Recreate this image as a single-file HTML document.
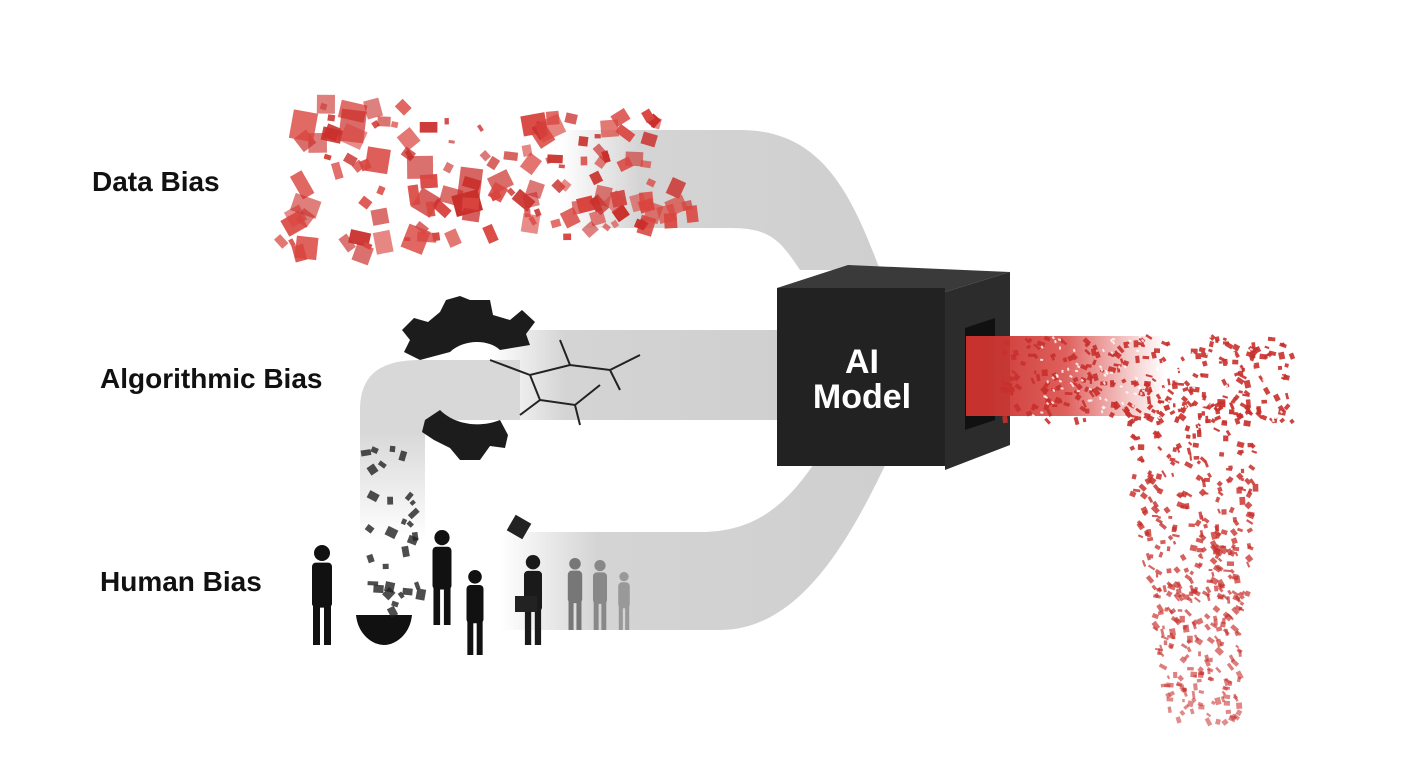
<!DOCTYPE html>
<html><head><meta charset="utf-8">
<style>
html,body{margin:0;padding:0;background:#fff;}
body{width:1408px;height:768px;overflow:hidden;position:relative;font-family:"Liberation Sans",sans-serif;}
.lbl{position:absolute;font-weight:bold;font-size:28px;color:#111;}
</style></head>
<body>
<svg id="s" width="1408" height="768" viewBox="0 0 1408 768" style="position:absolute;left:0;top:0">
<defs>
<linearGradient id="fadeL" x1="0" x2="1"><stop offset="0" stop-color="#d4d4d4" stop-opacity="0"/><stop offset="0.25" stop-color="#d4d4d4"/><stop offset="1" stop-color="#cfcfcf"/></linearGradient>
<linearGradient id="fadeV" x1="0" y1="1" x2="0" y2="0"><stop offset="0" stop-color="#d8d8d8" stop-opacity="0"/><stop offset="0.6" stop-color="#d8d8d8"/></linearGradient>
<linearGradient id="red" x1="0" x2="1"><stop offset="0" stop-color="#c8302c"/><stop offset="0.5" stop-color="#d94440" stop-opacity="0.85"/><stop offset="1" stop-color="#e06060" stop-opacity="0"/></linearGradient>
</defs>
<path d="M560,130 L740,130 C820,130 850,190 880,270 L800,270 C780,240 770,228 730,228 L560,228 Z" fill="url(#fadeL)"/>
<path d="M490,330 L790,330 L790,420 L490,420 Z" fill="url(#fadeL)"/>
<path d="M360,540 L360,410 C360,375 380,360 420,360 L520,360 L520,420 L440,420 C430,420 425,425 425,440 L425,540 Z" fill="url(#fadeV)"/>
<path d="M500,532 L700,532 C760,532 790,500 820,455 L890,455 C850,540 800,630 720,630 L500,630 Z" fill="url(#fadeL)"/>
<polygon points="777,288 945,292 1010,272 848,265" fill="#3a3a3a"/>
<polygon points="945,292 1010,272 1010,445 945,470" fill="#2c2c2c"/>
<rect x="777" y="288" width="168" height="178" fill="#222"/>
<polygon points="965,328 995,318 995,420 965,430" fill="#111"/>
<text x="862" y="373" fill="#fff" font-family="Liberation Sans" font-weight="bold" font-size="34" text-anchor="middle">AI</text>
<text x="862" y="408" fill="#fff" font-family="Liberation Sans" font-weight="bold" font-size="34" text-anchor="middle">Model</text>
<rect x="966" y="336" width="200" height="80" fill="url(#red)"/>
<g fill="#1c1c1c">
<path d="M470,300 L490,300 L493,315 L510,320 L522,310 L535,322 L526,334 L530,345 L500,350 C490,340 465,338 450,352 L420,360 L404,352 L410,340 L402,330 L414,318 L428,322 L440,312 L446,300 L460,296 Z"/>
<path d="M425,420 L440,410 C455,425 480,428 500,420 L508,435 L505,448 L490,446 L480,460 L460,460 L450,448 L434,440 L422,432 Z"/>
</g>
<g stroke="#222" stroke-width="2" fill="none">
<path d="M490,360 L530,375 L570,365 L610,370 L640,355 M530,375 L540,400 L575,405 L600,385 M540,400 L520,415 M570,365 L560,340 M575,405 L580,425 M610,370 L620,390"/>
</g>
<path d="M356,615 L412,615 C410,635 395,645 384,645 C373,645 358,635 356,615 Z" fill="#111"/>
<g id="dyn"></g>
</svg>
<div class="lbl" style="left:92px;top:166px">Data Bias</div>
<div class="lbl" style="left:100px;top:363px">Algorithmic Bias</div>
<div class="lbl" style="left:100px;top:566px">Human Bias</div>
<script>
var g=document.getElementById('dyn'),ns='http://www.w3.org/2000/svg',seed=7;
function r(){seed=(seed*16807)%2147483647;return seed/2147483647;}
function rect(x,y,w,h,c,rot,op){var e=document.createElementNS(ns,'rect');e.setAttribute('x',x);e.setAttribute('y',y);e.setAttribute('width',w);e.setAttribute('height',h);e.setAttribute('fill',c);e.setAttribute('opacity',op);e.setAttribute('transform','rotate('+rot+' '+(x+w/2)+' '+(y+h/2)+')');g.appendChild(e);}
for(var i=0;i<170;i++){var x=275+r()*420,y=90+r()*160;var dx=(x-275)/420;var s=6+r()*22*(1-dx*0.5);
 if(Math.abs(y-170)>80*(1-dx*0.3))continue;
 rect(x,y,s,s*(0.5+r()*0.8),r()<0.5?'#c92f2b':'#d9453f',r()*90,0.6+r()*0.4);}
for(var i=0;i<260;i++){var x=1000+r()*290,y=335+r()*85;rect(x,y,3+r()*5,2+r()*4,'#c8302c',r()*90,0.9);}
for(var i=0;i<150;i++){var x=1030+r()*260,y=335+r()*85;rect(x,y,3,2,'#fff',r()*90,0.8);}
for(var i=0;i<420;i++){var t=r();var y=400+t*320;var w=110*(1-t*0.5);var x=1240-w/2+(r()-0.5)*w*1.3-t*10;rect(x,y,3+r()*5,2+r()*4,'#c8302c',r()*90,0.95-t*0.4);}
for(var i=0;i<30;i++){var x=360+r()*60,y=440+r()*170;rect(x,y,4+r()*7,4+r()*7,'#222',r()*90,0.8);}
function person(x,top,h,c){var e=document.createElementNS(ns,'g');e.setAttribute('fill',c);var hr=h*0.08;
 e.innerHTML='<circle cx="'+x+'" cy="'+(top+hr)+'" r="'+hr+'"/><rect x="'+(x-h*0.1)+'" y="'+(top+hr*2.2)+'" width="'+(h*0.2)+'" height="'+(h*0.45)+'" rx="4"/><rect x="'+(x-h*0.09)+'" y="'+(top+h*0.6)+'" width="'+(h*0.07)+'" height="'+(h*0.4)+'"/><rect x="'+(x+h*0.02)+'" y="'+(top+h*0.6)+'" width="'+(h*0.07)+'" height="'+(h*0.4)+'"/>';g.appendChild(e);}
person(322,545,100,'#111');person(442,530,95,'#111');person(475,570,85,'#111');person(533,555,90,'#1a1a1a');
person(575,558,72,'#777');person(600,560,70,'#888');person(624,572,58,'#999');
rect(510,518,18,18,'#222',30,1);rect(515,596,22,16,'#222',0,1);
</script>
</body></html>
